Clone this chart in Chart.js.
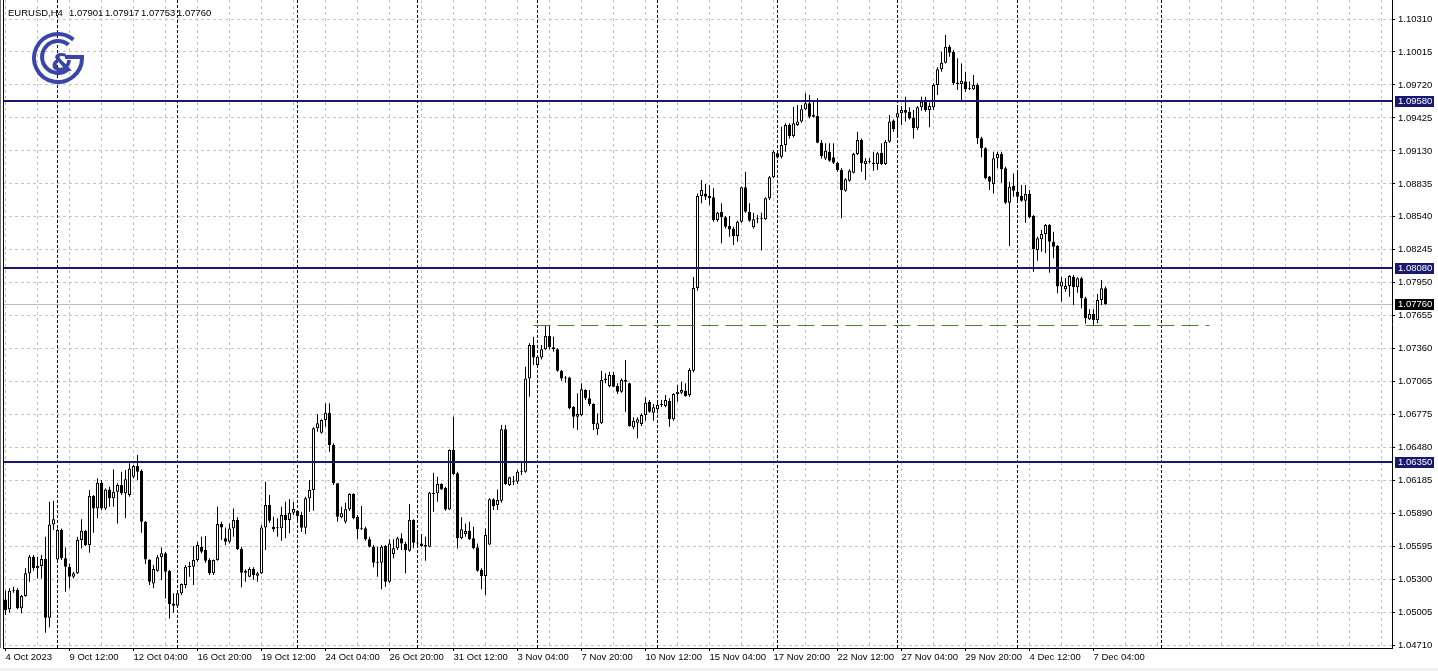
<!DOCTYPE html>
<html><head><meta charset="utf-8">
<script src="https://cdn.jsdelivr.net/npm/chart.js@4/dist/chart.umd.min.js"></script>
<style>
html,body{margin:0;padding:0;background:#fff;}
#wrap{position:relative;width:1438px;height:671px;overflow:hidden;background:#fff;}
#c{position:absolute;left:0;top:0;}
#logo{position:absolute;left:31px;top:30px;}
#status{position:absolute;left:0;top:668px;width:1438px;height:3px;background:#f0f0f0;}
</style></head><body>
<div id="wrap">
<canvas id="c" width="1438" height="671"></canvas>
<svg id="logo" width="56" height="56" viewBox="0 0 56 56">
 <g fill="none" stroke="#3a46a6" stroke-width="4">
  <path d="M42.4 9.6 A24 24 0 1 0 51 27 L34 27"/>
  <path d="M37.3 14.7 A16 16 0 1 0 37.3 39.3"/>
 </g>
 <text x="31" y="41" font-family="DejaVu Sans, sans-serif" font-weight="bold" font-size="25" fill="#3a46a6" text-anchor="middle">&amp;</text>
</svg>
<div id="status"></div>
</div>
<script>
// ---------- data ----------
const headerSymbol = 'EURUSD,H4';
const headerValues = ['1.07901', '1.07917', '1.07753', '1.07760'];
const xLabels = ['4 Oct 2023','9 Oct 12:00','12 Oct 04:00','16 Oct 20:00','19 Oct 12:00','24 Oct 04:00','26 Oct 20:00','31 Oct 12:00','3 Nov 04:00','7 Nov 20:00','10 Nov 12:00','15 Nov 04:00','17 Nov 20:00','22 Nov 12:00','27 Nov 04:00','29 Nov 20:00','4 Dec 12:00','7 Dec 04:00'];
const yTickValues = [1.10310,1.10015,1.09720,1.09425,1.09130,1.08835,1.08540,1.08245,1.07950,1.07655,1.07360,1.07065,1.06775,1.06480,1.06185,1.05890,1.05595,1.05300,1.05005,1.04710];
const yTickLabels = ['1.10310','1.10015','1.09720','1.09425','1.09130','1.08835','1.08540','1.08245','1.07950','1.07655','1.07360','1.07065','1.06775','1.06480','1.06185','1.05890','1.05595','1.05300','1.05005','1.04710'];
const levelLines = [1.09580, 1.08080, 1.06350];
const bidPrice = 1.07760;
const dashLevel = 1.07570;
const dashFromBar = 132;
const dashToBar = 301;
const weekSeparators = [13,43,73,103,133,163,193,223,253,289];

const opens = [
1.05118,1.05029,1.05196,1.05202,1.05038,1.05148,1.05351,1.05500,1.05396,1.05417,
1.05479,1.04954,1.05789,1.05476,1.05739,1.05485,1.05411,1.05321,1.05351,1.05649,
1.05733,1.05604,1.06043,1.05932,1.06162,1.05932,1.06102,1.06022,1.06082,1.06141,
1.06067,1.06052,1.06216,1.06311,1.06269,1.05813,1.05476,1.05261,1.05375,1.05494,
1.05530,1.05372,1.05082,1.05062,1.05172,1.05246,1.05405,1.05411,1.05470,1.05589,
1.05560,1.05470,1.05351,1.05470,1.05792,1.05664,1.05634,1.05753,1.05828,1.05569,
1.05372,1.05321,1.05390,1.05330,1.05351,1.05762,1.05962,1.05768,1.05762,1.05754,
1.05873,1.05828,1.05894,1.05911,1.05873,1.05759,1.06022,1.06096,1.06648,1.06609,
1.06723,1.06788,1.06499,1.06156,1.05852,1.05813,1.05924,1.06061,1.05858,1.05745,
1.05754,1.05655,1.05589,1.05446,1.05446,1.05595,1.05276,1.05524,1.05575,1.05664,
1.05613,1.05554,1.05828,1.05625,1.05619,1.05604,1.05590,1.06061,1.06067,1.06150,
1.06117,1.05923,1.06454,1.06246,1.05664,1.05703,1.05733,1.05664,1.05584,1.05381,
1.05327,1.05610,1.06013,1.05962,1.06001,1.06639,1.06141,1.06171,1.06171,1.06260,
1.06260,1.07095,1.07394,1.07215,1.07283,1.07355,1.07474,1.07373,1.07355,1.07164,
1.07095,1.07104,1.06842,1.06753,1.06767,1.06991,1.06917,1.06866,1.06639,1.06693,
1.07081,1.07027,1.07125,1.07027,1.06976,1.07081,1.07051,1.06657,1.06699,1.06687,
1.06767,1.06887,1.06788,1.06818,1.06857,1.06848,1.06893,1.06729,1.06955,1.06967,
1.06985,1.06946,1.07164,1.07904,1.08727,1.08750,1.08727,1.08715,1.08512,1.08586,
1.08536,1.08458,1.08437,1.08369,1.08497,1.08804,1.08586,1.08446,1.08518,1.08527,
1.08518,1.08706,1.08894,1.09108,1.09078,1.09183,1.09362,1.09263,1.09362,1.09392,
1.09502,1.09556,1.09451,1.09442,1.09204,1.09063,1.09123,1.09073,1.09025,1.08959,
1.08774,1.08864,1.08935,1.09102,1.09228,1.09013,1.09043,1.09025,1.09013,1.09114,
1.09013,1.09213,1.09401,1.09430,1.09466,1.09496,1.09481,1.09430,1.09332,1.09520,
1.09579,1.09496,1.09520,1.09720,1.09860,1.09919,1.10062,1.10018,1.09741,1.09729,
1.09750,1.09690,1.09681,1.09720,1.09243,1.09153,1.08900,1.08834,1.09064,1.09102,
1.08974,1.08667,1.08816,1.08765,1.08727,1.08685,1.08745,1.08548,1.08244,1.08339,
1.08387,1.08467,1.08318,1.08279,1.07916,1.07892,1.07922,1.08005,1.07910,1.07990,
1.07811,1.07623,1.07671,1.07617,1.07796,1.07901];
const highs = [
1.05196,1.05217,1.05232,1.05217,1.05157,1.05396,1.05515,1.05515,1.05500,1.05515,
1.05679,1.05992,1.06001,1.05753,1.05753,1.05583,1.05440,1.05366,1.05679,1.05834,
1.05739,1.06096,1.06052,1.06201,1.06186,1.06111,1.06126,1.06281,1.06156,1.06260,
1.06275,1.06335,1.06320,1.06409,1.06281,1.05819,1.05476,1.05425,1.05515,1.05583,
1.05545,1.05381,1.05172,1.05187,1.05261,1.05425,1.05455,1.05595,1.05634,1.05679,
1.05685,1.05485,1.05476,1.05947,1.05813,1.05762,1.05798,1.05932,1.05852,1.05589,
1.05387,1.05405,1.05405,1.05366,1.05783,1.06171,1.06052,1.05858,1.05843,1.05947,
1.05992,1.06013,1.05992,1.05917,1.05903,1.06037,1.06186,1.06657,1.06776,1.06729,
1.06872,1.06872,1.06514,1.06156,1.05947,1.05983,1.06067,1.06067,1.05873,1.05953,
1.05768,1.05679,1.05604,1.05589,1.05604,1.05604,1.05655,1.05655,1.05679,1.05709,
1.05634,1.05971,1.05834,1.05709,1.05703,1.05679,1.06081,1.06251,1.06216,1.06156,
1.06126,1.06460,1.06752,1.06260,1.05852,1.05798,1.05813,1.05768,1.05619,1.05396,
1.05753,1.06022,1.06022,1.06102,1.06678,1.06678,1.06216,1.06222,1.06275,1.06350,
1.07200,1.07409,1.07468,1.07295,1.07394,1.07564,1.07573,1.07468,1.07364,1.07170,
1.07116,1.07110,1.06848,1.06961,1.07051,1.06997,1.06991,1.06872,1.06782,1.07164,
1.07140,1.07155,1.07155,1.07051,1.07095,1.07259,1.07057,1.06747,1.06747,1.06782,
1.06926,1.06902,1.06866,1.06902,1.06902,1.06946,1.06917,1.06961,1.07036,1.07066,
1.07051,1.07185,1.08002,1.08750,1.08870,1.08834,1.08825,1.08795,1.08586,1.08661,
1.08548,1.08548,1.08452,1.08506,1.08810,1.08944,1.08661,1.08577,1.08557,1.08577,
1.08715,1.08906,1.09138,1.09123,1.09347,1.09377,1.09377,1.09526,1.09541,1.09541,
1.09645,1.09630,1.09585,1.09600,1.09228,1.09198,1.09198,1.09198,1.09034,1.08974,
1.08885,1.08965,1.09114,1.09302,1.09242,1.09064,1.09064,1.09123,1.09123,1.09198,
1.09228,1.09451,1.09412,1.09532,1.09532,1.09615,1.09520,1.09496,1.09532,1.09615,
1.09615,1.09562,1.09735,1.09878,1.10018,1.10167,1.10077,1.10033,1.09958,1.09913,
1.09839,1.09750,1.09809,1.09735,1.09257,1.09162,1.08906,1.09123,1.09123,1.09123,
1.08989,1.08855,1.08929,1.08944,1.08825,1.08825,1.08780,1.08557,1.08363,1.08423,
1.08476,1.08476,1.08407,1.08288,1.08005,1.07990,1.08020,1.08020,1.07999,1.08005,
1.07826,1.07713,1.07713,1.07850,1.07975,1.07917];
const lows = [
1.04978,1.04999,1.05178,1.05029,1.04993,1.05142,1.05276,1.05375,1.05306,1.05306,
1.04820,1.04868,1.05739,1.05464,1.05470,1.05187,1.05217,1.05306,1.05345,1.05574,
1.05595,1.05536,1.05715,1.05843,1.05917,1.05917,1.05947,1.05947,1.05798,1.06052,
1.05843,1.06037,1.06201,1.06186,1.05715,1.05434,1.05246,1.05217,1.05366,1.05291,
1.05127,1.04948,1.04999,1.05053,1.05157,1.05217,1.05321,1.05246,1.05455,1.05530,
1.05446,1.05336,1.05336,1.05464,1.05649,1.05604,1.05619,1.05679,1.05560,1.05226,
1.05276,1.05315,1.05291,1.05276,1.05345,1.05560,1.05804,1.05724,1.05679,1.05643,
1.05664,1.05709,1.05873,1.05813,1.05724,1.05703,1.05903,1.05911,1.06618,1.06603,
1.06663,1.06439,1.06141,1.05813,1.05843,1.05798,1.05911,1.05834,1.05655,1.05739,
1.05643,1.05583,1.05405,1.05321,1.05208,1.05232,1.05267,1.05485,1.05560,1.05560,
1.05351,1.05545,1.05575,1.05590,1.05590,1.05464,1.05584,1.05903,1.05992,1.06096,
1.05912,1.05917,1.06231,1.05574,1.05655,1.05679,1.05649,1.05566,1.05366,1.05208,
1.05157,1.05604,1.05917,1.05917,1.05983,1.06141,1.06132,1.06141,1.06150,1.06231,
1.06251,1.06931,1.07215,1.07206,1.07265,1.07349,1.07355,1.07334,1.07155,1.07075,
1.07057,1.06818,1.06648,1.06633,1.06758,1.06902,1.06848,1.06633,1.06589,1.06687,
1.07051,1.07015,1.07015,1.06955,1.06967,1.06797,1.06663,1.06639,1.06559,1.06669,
1.06717,1.06788,1.06717,1.06782,1.06842,1.06836,1.06663,1.06717,1.06887,1.06955,
1.06931,1.06931,1.07150,1.07880,1.08661,1.08691,1.08646,1.08497,1.08497,1.08303,
1.08437,1.08363,1.08288,1.08318,1.08488,1.08577,1.08497,1.08437,1.08482,1.08238,
1.08512,1.08691,1.08885,1.09063,1.09063,1.09123,1.09242,1.09251,1.09353,1.09383,
1.09496,1.09421,1.09430,1.09198,1.09063,1.09049,1.09034,1.09013,1.08944,1.08527,
1.08765,1.08855,1.08929,1.09093,1.08944,1.08870,1.09019,1.08953,1.08959,1.09004,
1.09004,1.09204,1.09302,1.09257,1.09362,1.09392,1.09412,1.09242,1.09317,1.09490,
1.09481,1.09341,1.09496,1.09630,1.09839,1.09913,1.09973,1.09720,1.09675,1.09580,
1.09660,1.09675,1.09675,1.09192,1.09073,1.08876,1.08780,1.08750,1.08974,1.08846,
1.08655,1.08279,1.08721,1.08661,1.08676,1.08488,1.08527,1.08050,1.08148,1.08229,
1.08214,1.08041,1.08169,1.07856,1.07781,1.07871,1.07826,1.07751,1.07862,1.07722,
1.07585,1.07617,1.07572,1.07588,1.07751,1.07753];
const closes = [
1.05023,1.05196,1.05202,1.05038,1.05148,1.05351,1.05500,1.05396,1.05417,1.05479,
1.04954,1.05789,1.05834,1.05739,1.05485,1.05411,1.05321,1.05351,1.05649,1.05733,
1.05604,1.06043,1.05932,1.06162,1.05932,1.06102,1.06022,1.06082,1.06141,1.06067,
1.06192,1.06290,1.06311,1.06260,1.05813,1.05476,1.05276,1.05390,1.05494,1.05530,
1.05366,1.05077,1.05062,1.05172,1.05255,1.05411,1.05417,1.05470,1.05604,1.05545,
1.05464,1.05351,1.05470,1.05792,1.05762,1.05634,1.05753,1.05828,1.05566,1.05357,
1.05357,1.05390,1.05336,1.05351,1.05762,1.05962,1.05822,1.05745,1.05754,1.05873,
1.05828,1.05894,1.05926,1.05864,1.05759,1.06022,1.06096,1.06648,1.06693,1.06723,
1.06788,1.06499,1.06156,1.05858,1.05888,1.05924,1.06061,1.05843,1.05745,1.05754,
1.05655,1.05589,1.05446,1.05455,1.05589,1.05276,1.05619,1.05575,1.05664,1.05619,
1.05560,1.05828,1.05625,1.05619,1.05596,1.05590,1.06073,1.06073,1.06150,1.06102,
1.05923,1.06454,1.06240,1.05664,1.05745,1.05730,1.05655,1.05575,1.05375,1.05327,
1.05694,1.06013,1.05953,1.06007,1.06639,1.06150,1.06210,1.06180,1.06260,1.06266,
1.07095,1.07394,1.07283,1.07289,1.07355,1.07474,1.07373,1.07355,1.07164,1.07095,
1.07104,1.06827,1.06753,1.06776,1.06997,1.06917,1.06866,1.06687,1.06693,1.07081,
1.07095,1.07125,1.07021,1.06976,1.07081,1.07066,1.06669,1.06717,1.06729,1.06767,
1.06878,1.06797,1.06836,1.06857,1.06863,1.06902,1.06729,1.06955,1.06976,1.06991,
1.06937,1.07170,1.07904,1.08727,1.08780,1.08721,1.08706,1.08512,1.08577,1.08536,
1.08452,1.08428,1.08369,1.08497,1.08804,1.08586,1.08506,1.08518,1.08527,1.08524,
1.08706,1.08894,1.09123,1.09072,1.09183,1.09362,1.09263,1.09377,1.09392,1.09502,
1.09556,1.09436,1.09436,1.09204,1.09084,1.09132,1.09043,1.09025,1.08959,1.08780,
1.08876,1.08953,1.09102,1.09228,1.09019,1.09043,1.09034,1.09013,1.09108,1.09013,
1.09213,1.09392,1.09323,1.09466,1.09496,1.09472,1.09421,1.09332,1.09520,1.09570,
1.09496,1.09532,1.09720,1.09860,1.09919,1.10062,1.10009,1.09735,1.09729,1.09758,
1.09681,1.09681,1.09720,1.09243,1.09153,1.08885,1.08855,1.09064,1.09102,1.08965,
1.08667,1.08810,1.08774,1.08721,1.08685,1.08745,1.08536,1.08250,1.08348,1.08387,
1.08467,1.08318,1.08273,1.07916,1.07960,1.07922,1.08011,1.07910,1.07990,1.07811,
1.07632,1.07671,1.07617,1.07796,1.07901,1.07760];

// ---------- layout / style ----------
const FONT = "'Liberation Sans', Arial, sans-serif";
const FS = 9.5;
const NAVY = '#191970';
const BARS_PER_LABEL = 16;
const BARS_PER_GRID = 8;
const X_MIN = -0.625, X_MAX = 346.625;
const Y_MIN = 1.046832, Y_MAX = 1.10480;

const xGrid = [];
for (let k = 0; k <= 344; k += BARS_PER_GRID) xGrid.push(k);
function xLabelFor(v) {
  if (v % BARS_PER_LABEL !== 0) return '';
  const j = v / BARS_PER_LABEL;
  return j < xLabels.length ? xLabels[j] : '';
}

const bodyData = opens.map((o, i) => ({x: i, y: [o, closes[i]]}));
const wickData = highs.map((h, i) => ({x: i, y: [lows[i], h]}));

const crisp = v => Math.round(v - 0.5) + 0.5;

const mt4 = {
  id: 'mt4',
  beforeDatasetsDraw(chart) {
    const {ctx, chartArea: a, scales: {x, y}} = chart;
    ctx.save();
    ctx.lineWidth = 1;
    ctx.strokeStyle = '#c4c4c4';
    ctx.setLineDash([3, 3]);
    ctx.beginPath();
    xGrid.forEach(k => { const px = crisp(x.getPixelForValue(k)); ctx.moveTo(px, a.top); ctx.lineTo(px, a.bottom); });
    yTickValues.forEach(v => { const py = crisp(y.getPixelForValue(v)); ctx.moveTo(a.left, py); ctx.lineTo(a.right, py); });
    ctx.stroke();
    ctx.strokeStyle = '#000';
    ctx.setLineDash([3, 2]);
    ctx.beginPath();
    weekSeparators.forEach(k => { const px = crisp(x.getPixelForValue(k)); ctx.moveTo(px, a.top); ctx.lineTo(px, a.bottom); });
    ctx.stroke();
    ctx.setLineDash([]);
    ctx.strokeStyle = '#bdbdbd';
    ctx.beginPath();
    const pb = crisp(y.getPixelForValue(bidPrice));
    ctx.moveTo(a.left, pb); ctx.lineTo(a.right, pb);
    ctx.stroke();
    ctx.restore();
  },
  afterDatasetsDraw(chart) {
    const {ctx, chartArea: a, scales: {x, y}} = chart;
    ctx.save();
    ctx.fillStyle = NAVY;
    levelLines.forEach(v => {
      const py = Math.round(y.getPixelForValue(v));
      ctx.fillRect(a.left, py - 1, a.right - a.left, 2);
    });
    ctx.strokeStyle = '#4c7f2c';
    ctx.lineWidth = 1;
    ctx.setLineDash([17, 7]);
    ctx.beginPath();
    const pd = crisp(y.getPixelForValue(dashLevel));
    ctx.moveTo(x.getPixelForValue(dashFromBar), pd);
    ctx.lineTo(x.getPixelForValue(dashToBar), pd);
    ctx.stroke();
    ctx.restore();
  },
  afterDraw(chart) {
    const {ctx, chartArea: a, scales: {y}} = chart;
    ctx.save();
    ctx.font = FS + 'px ' + FONT;
    ctx.textBaseline = 'middle';
    ctx.textAlign = 'left';
    const boxes = levelLines.map(v => [v, NAVY]).concat([[bidPrice, '#000']]);
    boxes.forEach(([v, col]) => {
      const py = Math.round(y.getPixelForValue(v));
      ctx.fillStyle = col;
      ctx.fillRect(a.right + 3, py - 5, 39, 11);
      ctx.fillStyle = '#fff';
      ctx.fillText(v.toFixed(5), a.right + 6, py + 0.5);
    });
    // header (symbol + OHLC of the last bar)
    ctx.fillStyle = '#000';
    ctx.textBaseline = 'alphabetic';
    ctx.fillText(headerSymbol, 8, 16);
    headerValues.forEach((s, i) => ctx.fillText(s, 69 + 36 * i, 16));
    // left frame
    ctx.fillStyle = '#000';
    ctx.fillRect(a.left, a.top, 1, a.bottom - a.top);
    ctx.fillStyle = '#707070';
    ctx.fillRect(0, 0, 1, a.bottom);
    ctx.restore();
  }
};

new Chart(document.getElementById('c'), {
  type: 'bar',
  data: {
    datasets: [
      {
        label: 'body', data: bodyData, order: 1, grouped: false,
        barThickness: 3, minBarLength: 1, borderWidth: 1, borderSkipped: false, inflateAmount: 0,
        borderColor: '#000',
        backgroundColor: c => (closes[c.dataIndex] >= opens[c.dataIndex] ? '#fff' : '#000')
      },
      {
        label: 'wick', data: wickData, order: 2, grouped: false,
        barThickness: 1, minBarLength: 1, borderWidth: 0, inflateAmount: 0,
        backgroundColor: '#000'
      }
    ]
  },
  options: {
    responsive: false, animation: false, devicePixelRatio: 1, events: [],
    layout: {padding: {left: 3, right: 0, top: 0, bottom: 0}},
    plugins: {legend: {display: false}, tooltip: {enabled: false}},
    scales: {
      x: {
        type: 'linear', min: X_MIN, max: X_MAX, bounds: 'data', offset: false,
        afterBuildTicks: s => { s.ticks = xGrid.map(v => ({value: v})); },
        afterFit: s => { s.height = 23; s.paddingLeft = 0; s.paddingRight = 0; },
        grid: {offset: false, drawOnChartArea: false, drawTicks: true, tickLength: 3, lineWidth: 1,
               tickColor: c => (c.tick && xLabelFor(c.tick.value)) ? '#000' : 'rgba(0,0,0,0)'},
        border: {display: true, color: '#000', width: 1},
        ticks: {autoSkip: false, maxRotation: 0, minRotation: 0, align: 'start', padding: 1, color: '#000',
                font: {family: FONT, size: FS}, callback: v => xLabelFor(v)}
      },
      y: {
        position: 'right', min: Y_MIN, max: Y_MAX, bounds: 'data', beginAtZero: false,
        afterBuildTicks: s => { s.ticks = yTickValues.map(v => ({value: v})); },
        afterFit: s => { s.width = 46; s.paddingTop = 0; s.paddingBottom = 0; },
        grid: {drawOnChartArea: false, drawTicks: true, tickLength: 3, tickColor: '#000', lineWidth: 1},
        border: {display: true, color: '#000', width: 1},
        ticks: {padding: 3, color: '#000', font: {family: FONT, size: FS},
                callback: (v, i) => yTickLabels[i]}
      }
    }
  },
  plugins: [mt4]
});
</script>
</body></html>
